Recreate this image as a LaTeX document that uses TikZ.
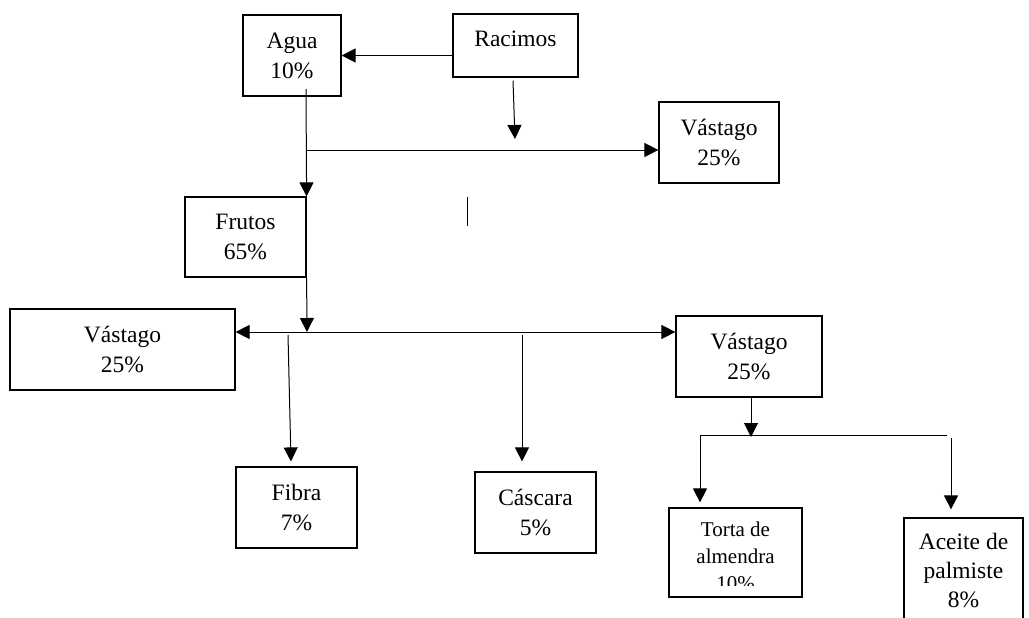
\documentclass[tikz,border=0pt]{standalone}
\usepackage{fontspec}
\setmainfont{Liberation Serif}
\usetikzlibrary{arrows.meta}

\begin{document}
\begin{tikzpicture}[x=1pt,y=-1pt,
  box/.style={draw,line width=1.2pt,inner sep=0pt,align=center,font=\fontsize{23.5}{30}\selectfont},
  txt/.style={inner sep=0pt,align=center,font=\fontsize{23.5}{30}\selectfont},
  flow/.style={line width=1pt,-{Triangle[length=14pt,width=14pt]}}]
  \useasboundingbox (0,0) rectangle (1029,618);
  \clip (0,0) rectangle (1029,618);

  % boxes
  \node[box,minimum width=98,minimum height=81] (agua) at (292,55.5) {Agua\\10\%};
  \node[box,minimum width=125,minimum height=63] (racimos) at (515.5,45.5) {};
  \node[txt,anchor=base] (racimos-t) at (515.5,47) {Racimos};
  \node[box,minimum width=120,minimum height=81] (vastago1) at (719,142.5) {Vástago\\25\%};
  \node[box,minimum width=121,minimum height=80] (frutos) at (245.5,237) {Frutos\\65\%};
  \node[box,minimum width=225,minimum height=81] (vastagoL) at (122.5,349.5) {Vástago\\25\%};
  \node[box,minimum width=146,minimum height=81] (vastagoR) at (749,356.5) {Vástago\\25\%};
  \node[box,minimum width=121,minimum height=81] (fibra) at (296.5,507.5) {Fibra\\7\%};
  \node[box,minimum width=121,minimum height=81] (cascara) at (535.5,512.5) {Cáscara\\5\%};
  \node[box,minimum width=133,minimum height=89] (torta) at (735.5,552.5) {};
  \begin{scope}
    \clip (torta.north west) rectangle ([yshift=12pt]torta.south east);
    \node[txt,anchor=north,font=\fontsize{21}{27}\selectfont] (torta-t) at ([yshift=-14pt]torta.north) {Torta de\\almendra\\10\%};
  \end{scope}
  \node[box,minimum width=119,minimum height=142] (aceite) at (963.5,589) {};
  \node[txt,anchor=north,font=\fontsize{23.5}{29}\selectfont] (aceite-t) at ([yshift=-16pt]aceite.north) {Aceite de\\palmiste\\8\%};

  % junctions
  \coordinate (aguaout) at (306,89);
  \coordinate (jA) at (306,150);
  \coordinate (jB) at (515,139);
  \coordinate (s1) at (467,197);
  \coordinate (s2) at (467,226);
  \coordinate (jC) at (307,332);
  \coordinate (jF) at (288,335);
  \coordinate (jK) at (522,335);
  \coordinate (jV) at (751,437);
  \coordinate (jT) at (700,435);
  \coordinate (jE) at (947,435);
  \coordinate (jP) at (951,438);

  % connectors
  \draw[flow] (racimos.west |- agua.east) -- (agua.east);
  \draw[flow] (aguaout) -- (frutos.north east);
  \draw[flow] (jA) -- (vastago1.west |- jA);
  \draw[flow] ([xshift=-2.5pt,yshift=-3pt]racimos.south) -- (jB);
  \draw[line width=1pt] (s1) -- (s2);
  \draw[flow] (frutos.south east) -- (jC);
  \draw[flow,{Triangle[length=14pt,width=14pt]}-{Triangle[length=14pt,width=14pt]}] (vastagoL.east |- jC) -- (vastagoR.west |- jC);
  \draw[flow] (jF) -- ([xshift=-5.5pt,yshift=5pt]fibra.north);
  \draw[flow] (jK) -- ([xshift=-13.5pt,yshift=10pt]cascara.north);
  \draw[flow] ([xshift=2pt]vastagoR.south) -- (jV);
  \draw[flow] (jE) -- (jT) -- ([xshift=-35.5pt,yshift=5pt]torta.north);
  \draw[flow] (jP) -- ([xshift=-12.5pt,yshift=8pt]aceite.north);
\end{tikzpicture}
\end{document}
